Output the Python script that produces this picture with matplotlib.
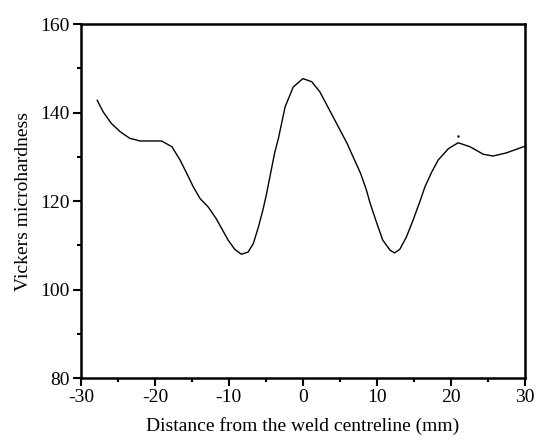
import matplotlib.pyplot as plt
from matplotlib.ticker import MultipleLocator

# hardness profile across the weld
distance = [-27.8, -27.0, -25.9, -24.7, -23.4, -22.0, -19.1, -17.7, -16.6, -15.7,
            -14.8, -13.9, -12.8, -11.7, -10.9, -10.1, -9.2, -8.3, -7.4, -6.7,
            -6.0, -5.4, -4.9, -4.3, -3.8, -3.3, -2.4, -1.3, 0.0, 1.2,
            2.3, 3.6, 4.8, 6.0, 6.8, 7.8, 8.6, 9.1, 10.0, 10.8,
            11.8, 12.4, 13.1, 14.0, 14.9, 15.8, 16.5, 17.4, 18.3, 19.7,
            21.0, 22.6, 24.4, 25.7, 27.5, 30.0]
hardness = [142.8, 140.2, 137.6, 135.7, 134.2, 133.6, 133.6, 132.3, 129.3, 126.3,
            123.2, 120.6, 118.7, 116.0, 113.6, 111.2, 109.1, 108.0, 108.5, 110.4,
            114.2, 118.0, 121.7, 126.8, 131.0, 134.2, 141.3, 145.8, 147.7, 147.0,
            144.7, 140.6, 136.8, 133.0, 130.0, 126.3, 122.5, 119.5, 115.0, 111.2,
            108.9, 108.3, 109.1, 111.9, 115.7, 119.8, 123.2, 126.5, 129.3, 131.9,
            133.2, 132.3, 130.6, 130.2, 130.9, 132.4]

# stray dot above the curve
stray_x = [21.0]
stray_y = [134.7]

plt.rcParams['font.family'] = ['Liberation Serif', 'DejaVu Serif']
plt.rcParams['axes.unicode_minus'] = False

fig = plt.figure(figsize=(5.36, 4.48), dpi=100)
ax = fig.add_axes([0.151, 0.156, 0.828, 0.790])

ax.plot(distance, hardness, color='black', lw=1.0)
ax.plot(stray_x, stray_y, 'k.', ms=1.5)

ax.set_xlim(-30, 30)
ax.set_ylim(80, 160)
ax.xaxis.set_major_locator(MultipleLocator(10))
ax.xaxis.set_minor_locator(MultipleLocator(5))
ax.yaxis.set_major_locator(MultipleLocator(20))
ax.yaxis.set_minor_locator(MultipleLocator(10))

for s in ax.spines.values():
    s.set_linewidth(1.8)
ax.tick_params(which='major', direction='out', length=6, width=1.5, labelsize=14, pad=2)
ax.tick_params(which='minor', direction='out', length=3, width=1.5)

ax.set_xlabel('Distance from the weld centreline (mm)', fontsize=14, labelpad=8)
ax.set_ylabel('Vickers microhardness', fontsize=14, labelpad=6)

fig.savefig('out.png', dpi=100)
